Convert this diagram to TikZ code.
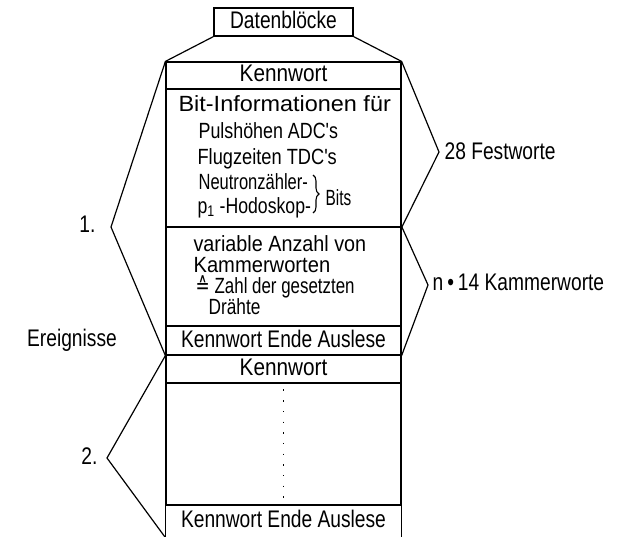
\documentclass[tikz,border=0pt]{standalone}
\usepackage{fontspec}
\setmainfont{Liberation Sans}[FakeStretch=0.8]
\newcommand{\lsx}[1]{\fontspec{Liberation Sans}[FakeStretch=#1]}
\newcommand{\dsx}[1]{\fontspec{DejaVu Sans}[FakeStretch=#1]}
\usetikzlibrary{decorations.pathreplacing}
\begin{document}
\begin{tikzpicture}[x=1pt,y=-1pt,line width=1.2pt,
  lbl/.style={font=\fontsize{24}{26}\selectfont, inner sep=0pt, text height=16pt, text depth=3pt},
  inl/.style={font=\fontsize{22}{24}\selectfont, inner sep=0pt, text height=15pt, text depth=3pt, anchor=west},
  box/.style={draw, minimum width=235pt, inner sep=0pt, font=\fontsize{24}{26}\selectfont, text height=16pt, text depth=3pt},
  openbox/.style={minimum width=235pt, inner sep=0pt, font=\fontsize{24}{26}\selectfont, text height=16pt, text depth=3pt},
  bracket/.style={line width=1.2pt, line join=miter}]
\useasboundingbox (0,0) rectangle (620,537);

% top block
\node[draw, minimum width=139pt, minimum height=28pt, inner sep=0pt, font=\fontsize{24}{26}\selectfont, text height=16pt, text depth=3pt] (db) at (283.5,22) {Datenblöcke};

% event 1
\node[box, minimum height=27pt] (kw1) at (283.5,75.5) {{\lsx{0.864}Kennwort}};
\node[box, minimum height=138pt] (bits) at (283.5,158) {};
\node[box, minimum height=99pt] (var) at (283.5,276.5) {};
\node[box, minimum height=29pt] (end1) at (283.5,340.5) {Kennwort Ende Auslese};

% event 2
\node[box, minimum height=28pt] (kw2) at (283.5,369) {{\lsx{0.864}Kennwort}};
\node[box, minimum height=122pt] (dots) at (283.5,444) {};
\node[openbox, minimum height=32pt] (end2) at (283.5,521) {Kennwort Ende Auslese};
\draw (end2.north west) -- (end2.south west);
\draw (end2.north east) -- (end2.south east);

% dotted continuation
\draw[line width=1.4pt, dash pattern=on 1.4pt off 9.3pt] ([yshift=-7pt]dots.north) -- ([yshift=8pt]dots.south);

% bit information text
\node[inl] (b1) at (178,106) {\lsx{1.065}Bit-Informationen für};
\node[inl] (b2) at (198,133) {\lsx{0.812}Pulshöhen ADC's};
\node[inl] (b3) at (197,159) {\lsx{0.829}Flugzeiten TDC's};
\node[inl] (b4) at (198,184) {\lsx{0.751}Neutronzähler-};
\node[inl] (b5) at (197,207) {\lsx{0.803}p\textsubscript{1} -Hodoskop-};
\coordinate (brt) at (313,175);
\coordinate (brb) at (313,213);
\draw[line width=1.1pt, decorate, decoration={brace, amplitude=6pt}] (brt) -- (brb);
\node[inl] (bitslbl) at (325,199) {\lsx{0.698}Bits};

% variable part text
\node[inl] (v1) at (193,245) {\lsx{0.899}variable Anzahl von};
\node[inl] (v2) at (193,266) {\lsx{0.916}Kammerworten};
\node[inl] (v3) at (195,287) {{\dsx{0.768}≙} \lsx{0.768}Zahl der gesetzten};
\node[inl] (v4) at (208,308) {\lsx{0.785}Drähte};

% bracket apexes
\coordinate (a1) at (111,227);
\coordinate (a2) at (107,458);
\coordinate (a3) at (439,152);
\coordinate (a4) at (428,285);

% connectors
\draw[bracket] (db.south west) -- (kw1.north west);
\draw[bracket] (db.south east) -- (kw1.north east);
\draw[bracket] (kw1.north west) -- (a1) -- (end1.south west);
\draw[bracket] (end1.south west) -- (a2) -- (end2.south west);
\draw[bracket] (kw1.north east) -- (a3) -- (bits.south east);
\draw[bracket] (var.north east) -- (a4) -- (end1.south east);

% labels
\node[lbl, anchor=east] (l1) at (96,226) {1.};
\node[lbl, anchor=east] (l2) at (98,458) {2.};
\node[lbl] (ereig) at (72,340) {Ereignisse};
\node[lbl, anchor=west] (fest) at (444,153) {28 Festworte};
\node[lbl, anchor=west] (kamm) at (432,284) {n\,•\,14 Kammerworte};
\end{tikzpicture}
\end{document}
